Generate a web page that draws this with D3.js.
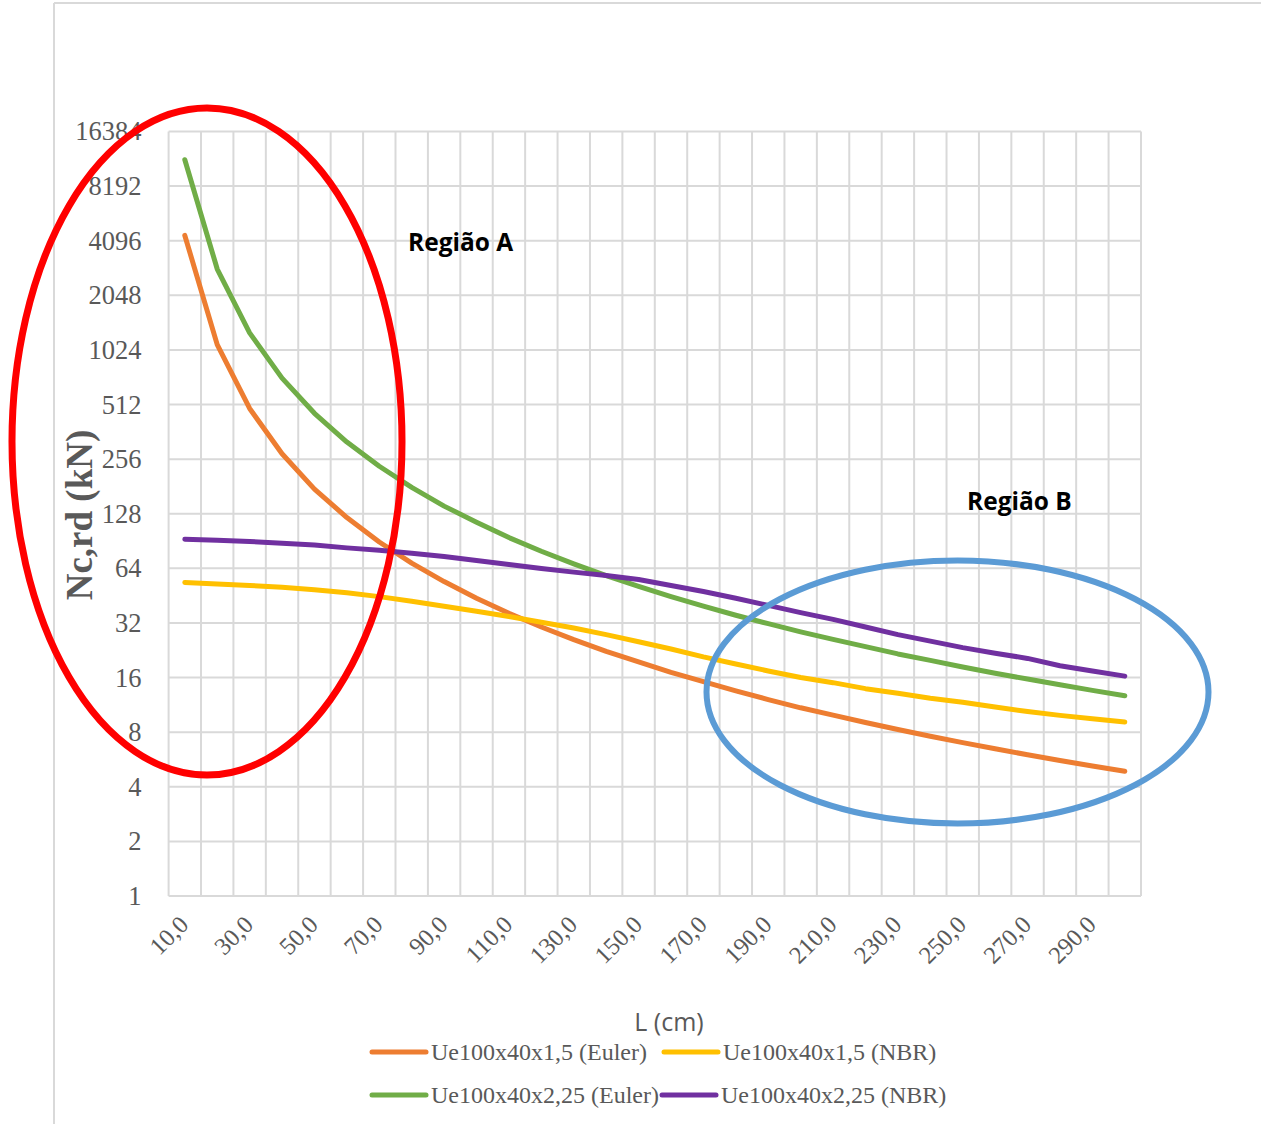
<!DOCTYPE html>
<html>
<head>
<meta charset="utf-8">
<script src="https://cdn.jsdelivr.net/npm/d3@7/dist/d3.min.js"></script>
<style>
  html, body { margin: 0; padding: 0; background: #fff; }
  svg { display: block; }
</style>
</head>
<body>
<svg id="chart" width="1261" height="1124"></svg>
<script>
// Comprimento L (cm)
const comprimentos = [10, 20, 30, 40, 50, 60, 70, 80, 90, 100,
  110, 120, 130, 140, 150, 160, 170, 180, 190, 200,
  210, 220, 230, 240, 250, 260, 270, 280, 290, 300];

// Nc,rd (kN) por perfil e método
const ue15Euler = [4380, 1095, 487, 274, 175, 122, 89.4, 68.4, 54.1, 43.8,
  36.2, 30.4, 25.9, 22.3, 19.5, 17.1, 15.2, 13.5, 12.1, 10.9,
  9.93, 9.05, 8.28, 7.60, 7.01, 6.48, 6.01, 5.59, 5.21, 4.87];
const ue15NBR = [53.5, 52.5, 51.5, 50.3, 48.8, 46.9, 44.7, 42.2, 39.6, 37.1,
  34.7, 32.3, 30.0, 27.6, 25.2, 23.0, 20.8, 19.0, 17.4, 16.0,
  15.0, 13.9, 13.1, 12.3, 11.7, 11.0, 10.4, 9.9, 9.5, 9.1];
const ue225Euler = [11450, 2860, 1272, 716, 458, 318, 234, 179, 141, 115,
  94.6, 79.5, 67.8, 58.4, 50.9, 44.7, 39.6, 35.3, 31.7, 28.6,
  26.0, 23.7, 21.6, 19.9, 18.3, 16.9, 15.7, 14.6, 13.6, 12.7];
const ue225NBR = [92.6, 91.5, 90.0, 88.0, 86.2, 83.0, 80.5, 77.5, 74.3, 70.8,
  67.2, 63.8, 61.0, 58.5, 55.5, 51.5, 47.7, 43.8, 40.0, 36.5,
  33.5, 30.4, 27.6, 25.4, 23.4, 21.8, 20.4, 18.6, 17.4, 16.3];

const seriesNames = ["Ue100x40x1,5 (Euler)", "Ue100x40x1,5 (NBR)",
  "Ue100x40x2,25 (Euler)", "Ue100x40x2,25 (NBR)"];
const seriesColors = ["#ED7D31", "#FFC000", "#70AD47", "#7030A0"];
const seriesValues = [ue15Euler, ue15NBR, ue225Euler, ue225NBR];

const yTicks = [1, 2, 4, 8, 16, 32, 64, 128, 256, 512, 1024, 2048, 4096, 8192, 16384];
const regionLabels = ["Região A", "Região B"];

const svg = d3.select("#chart");
const plot = { left: 168.6, right: 1141, top: 131.5, bottom: 896 };

const ptBR = d3.formatLocale({ decimal: ",", thousands: ".", grouping: [3], currency: ["R$", ""] });
const fmtCat = ptBR.format(".1f");

const x = d3.scaleBand().domain(comprimentos).range([plot.left, plot.right]).padding(0);
const y = d3.scaleLog().base(2).domain([1, 16384]).range([plot.bottom, plot.top]);
const cx = d => x(d) + x.bandwidth() / 2;

// outer chart frame
svg.append("line").attr("x1", 54).attr("x2", 54).attr("y1", 3).attr("y2", 1124)
  .attr("stroke", "#D9D9D9").attr("stroke-width", 2);
svg.append("line").attr("x1", 54).attr("x2", 1261).attr("y1", 3).attr("y2", 3)
  .attr("stroke", "#D9D9D9").attr("stroke-width", 2);

// gridlines
const grid = svg.append("g").attr("stroke", "#D9D9D9").attr("stroke-width", 2);
grid.selectAll("line.h").data(yTicks).join("line")
  .attr("x1", plot.left).attr("x2", plot.right)
  .attr("y1", d => y(d)).attr("y2", d => y(d));
const bounds = comprimentos.map(c => x(c)).concat([plot.right]);
grid.selectAll("line.v").data(bounds).join("line")
  .attr("x1", d => d).attr("x2", d => d)
  .attr("y1", plot.top).attr("y2", plot.bottom);

// y axis labels
const yAxis = d3.axisLeft(y).tickValues(yTicks).tickFormat(d3.format("d")).tickSize(0).tickPadding(0);
const gy = svg.append("g").attr("transform", `translate(${plot.left - 27},0)`).call(yAxis);
gy.select(".domain").remove();
gy.selectAll("text")
  .attr("font-family", "'Liberation Serif', 'Times New Roman', serif")
  .attr("font-size", 26.5).attr("fill", "#595959");

// x axis labels (every other category), rotated
const xAxis = d3.axisBottom(x)
  .tickValues(comprimentos.filter((c, i) => i % 2 === 0))
  .tickFormat(fmtCat).tickSize(0).tickPadding(0);
const gx = svg.append("g").attr("transform", `translate(0,${plot.bottom})`).call(xAxis);
gx.select(".domain").remove();
gx.selectAll(".tick text")
  .attr("font-family", "'Liberation Serif', 'Times New Roman', serif")
  .attr("font-size", 24.5).attr("fill", "#595959")
  .attr("text-anchor", "end")
  .attr("dy", null).attr("y", null)
  .attr("transform", "translate(5,30) rotate(-45)");

// series lines
const line = d3.line().x((d, i) => cx(comprimentos[i])).y(d => y(d));
svg.append("g").selectAll("path").data(seriesValues).join("path")
  .attr("d", d => line(d))
  .attr("fill", "none")
  .attr("stroke", (d, i) => seriesColors[i])
  .attr("stroke-width", 5)
  .attr("stroke-linecap", "round")
  .attr("stroke-linejoin", "round");

// axis titles
svg.append("text")
  .attr("transform", "translate(92,515) rotate(-90)")
  .attr("text-anchor", "middle")
  .attr("font-family", "'Liberation Serif', 'Times New Roman', serif")
  .attr("font-weight", "bold").attr("font-size", 37).attr("fill", "#595959")
  .text("Nc,rd (kN)");
svg.append("text")
  .attr("x", 669).attr("y", 1031)
  .attr("text-anchor", "middle")
  .attr("font-family", "'Open Sans', sans-serif")
  .attr("font-size", 25).attr("fill", "#595959")
  .text("L (cm)");

// legend
const legendPos = [[372, 1052], [664, 1052], [372, 1095], [662, 1095]];
const lg = svg.append("g").selectAll("g").data(seriesNames).join("g")
  .attr("transform", (d, i) => `translate(${legendPos[i][0]},${legendPos[i][1]})`);
lg.append("line").attr("x1", 0).attr("x2", 54).attr("y1", 0).attr("y2", 0)
  .attr("stroke", (d, i) => seriesColors[i]).attr("stroke-width", 5)
  .attr("stroke-linecap", "round");
lg.append("text").attr("x", 59).attr("y", 0).attr("dy", "0.33em")
  .attr("font-family", "'Liberation Serif', 'Times New Roman', serif")
  .attr("font-size", 24).attr("fill", "#595959")
  .text(d => d);

// highlighted regions
svg.append("ellipse").attr("cx", 207).attr("cy", 441.5).attr("rx", 195).attr("ry", 333.5)
  .attr("fill", "none").attr("stroke", "#FF0000").attr("stroke-width", 7);
svg.append("ellipse").attr("cx", 957.5).attr("cy", 692).attr("rx", 251).attr("ry", 131.5)
  .attr("fill", "none").attr("stroke", "#5B9BD5").attr("stroke-width", 6);

const regionPos = [[408, 251], [967, 510]];
svg.append("g").selectAll("text").data(regionLabels).join("text")
  .attr("x", (d, i) => regionPos[i][0]).attr("y", (d, i) => regionPos[i][1])
  .attr("font-family", "'Open Sans', sans-serif")
  .attr("font-weight", "bold").attr("font-size", 24.5).attr("fill", "#000")
  .text(d => d);
</script>
</body>
</html>
